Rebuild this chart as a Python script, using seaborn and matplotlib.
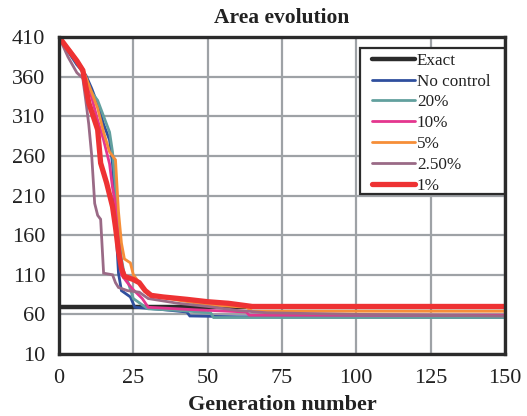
import matplotlib
matplotlib.use("Agg")
import matplotlib.pyplot as plt
from matplotlib.patches import Rectangle
import seaborn as sns
import pandas as pd

sns.set_theme(style="white")
plt.rcParams['font.family'] = ['Liberation Serif', 'DejaVu Serif']

# ---- data ----
exact_gen = [0, 150]
exact_val = [69, 69]

noctrl_gen = [0, 3, 6, 9, 11, 13, 15, 17, 18, 19, 20, 21, 24, 25.5, 35, 43, 44, 60, 150]
noctrl_val = [410, 392, 375, 362, 345, 325, 300, 280, 250, 180, 112, 90, 82, 69, 66, 63, 58, 57, 56]

p20_gen = [0, 4, 8, 10, 12, 13, 15, 17, 18, 19, 20, 21, 22, 23, 25, 28, 30, 40, 51, 52, 150]
p20_val = [410, 390, 365, 345, 335, 330, 310, 290, 265, 220, 170, 130, 110, 103, 80, 72, 67, 65, 62, 56, 56]

p10_gen = [0, 4, 8, 10, 13, 15, 17, 18, 19, 20, 21, 23, 25, 28, 30, 45, 63, 64, 150]
p10_val = [410, 390, 368, 348, 305, 280, 250, 220, 200, 150, 110, 100, 91, 80, 69, 66, 63, 59, 59]

p5_gen = [0, 4, 8, 10, 13, 15, 17, 19, 20, 21, 22, 24, 25, 27, 30, 40, 50, 63, 65, 150]
p5_val = [410, 392, 370, 350, 320, 290, 265, 255, 190, 150, 130, 125, 110, 100, 85, 78, 72, 69, 64, 64]

p25_gen = [0, 3, 6, 8, 9, 10, 11, 12, 13, 14, 15, 18, 19, 20, 23, 27, 30, 40, 50, 60, 70, 100, 150]
p25_val = [410, 385, 365, 358, 330, 300, 260, 200, 185, 180, 112, 110, 100, 94, 90, 88, 80, 74, 70, 65, 62, 60, 58]

p1_gen = [0, 3, 6, 8, 10, 13, 14, 16, 18, 19, 20, 21, 22, 25, 27, 29, 31, 35, 43, 50, 57, 65, 150]
p1_val = [410, 395, 380, 368, 327, 293, 251, 226, 196, 170, 140, 118, 108, 104, 100, 90, 84, 82, 79, 76, 74, 70, 70]

series = [
    ("Exact", exact_gen, exact_val, "#2b2b2b", 3.2),
    ("No control", noctrl_gen, noctrl_val, "#2f4f9e", 2.0),
    ("20%", p20_gen, p20_val, "#62a09e", 2.0),
    ("10%", p10_gen, p10_val, "#e4368e", 2.0),
    ("5%", p5_gen, p5_val, "#f68e38", 2.0),
    ("2.50%", p25_gen, p25_val, "#9a6a86", 2.0),
    ("1%", p1_gen, p1_val, "#ee3233", 3.8),
]

fig = plt.figure(figsize=(5.27, 4.16), dpi=100)
ax = fig.add_axes([0.112, 0.149, 0.846, 0.762])

for name, g, v, c, lw in series:
    df = pd.DataFrame({"gen": g, "val": v})
    sns.lineplot(data=df, x="gen", y="val", ax=ax, color=c, linewidth=lw,
                 label=name, sort=False, solid_joinstyle="miter")

ax.set_xlim(0, 150)
ax.set_ylim(10, 410)
ax.set_xticks([0, 25, 50, 75, 100, 125, 150])
ax.set_yticks(list(range(10, 411, 50)))
ax.grid(True, color="#9ea2a6", linewidth=1.6)
ax.set_axisbelow(True)
for s in ax.spines.values():
    s.set_color("#2b2b2b")
    s.set_linewidth(2.4)
    s.set_zorder(6)
ax.tick_params(direction="in", length=5, width=2, color="#2b2b2b",
               labelsize=16, labelcolor="#222222")
ax.tick_params(axis="y", pad=10)
ax.tick_params(axis="x", pad=11)

ax.set_title("Area evolution", fontsize=15.5, fontweight="bold", pad=10, color="#222222")
ax.set_xlabel("Generation number", fontsize=16, fontweight="bold", labelpad=5, color="#222222")
ax.set_ylabel("")

# legend frame (drawn as a box) and legend entries
frame = Rectangle((0.675, 0.505), 0.325, 0.46, transform=ax.transAxes,
                  facecolor="white", edgecolor="#2b2b2b", linewidth=1.6, zorder=4.5)
ax.add_patch(frame)
leg = ax.legend(loc="upper left", bbox_to_anchor=(0.703, 0.950), fontsize=12.3,
                handlelength=2.5, handletextpad=0.1, labelspacing=0.28,
                borderpad=0, frameon=False, borderaxespad=0)
for t in leg.get_texts():
    t.set_color("#222222")

fig.savefig("out.png", dpi=100)
